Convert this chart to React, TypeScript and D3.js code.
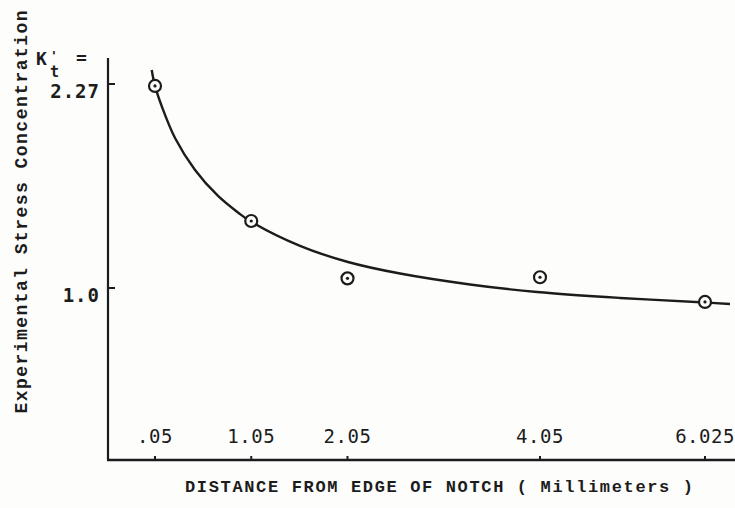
import React from "react";
import * as d3 from "d3";

// Data
const xTickValues = [0.05, 1.05, 2.05, 4.05, 6.025];
const xTickLabels = [".05", "1.05", "2.05", "4.05", "6.025"];
const yTickValues = [2.27, 1.0];
const yTickLabels = ["2.27", "1.0"];

const pointX = [0.05, 1.05, 2.05, 4.05, 6.025];
const pointY = [2.258, 1.417, 1.06, 1.067, 0.913];

const curveX = [0.016, 0.05, 0.123, 0.258, 0.466, 0.705, 0.912, 1.037, 1.557, 2.055, 2.596, 3.323, 4.019, 5.008, 6.025, 6.324];
const curveY = [2.357, 2.258, 2.127, 1.934, 1.735, 1.573, 1.47, 1.417, 1.262, 1.162, 1.09, 1.022, 0.975, 0.938, 0.91, 0.9];

const yTitle = "Experimental Stress Concentration";
const xTitle = "DISTANCE FROM EDGE OF NOTCH ( Millimeters )";

const W = 735;
const H = 508;

export default function App() {
  const x = d3.scaleLinear().domain([0.05, 4.05, 6.025]).range([155, 540, 705]);
  const y = d3.scaleLinear().domain([1.0, 2.27]).range([288, 84]);

  const axisX = 108;
  const axisTop = 58;
  const axisBottom = 460;

  const line = d3
    .line<number>()
    .x((_, i) => x(curveX[i]))
    .y((d) => y(d))
    .curve(d3.curveCatmullRom.alpha(0.5));

  const ink = "#1c1c1c";
  const bg = "#fdfdfc";
  const mono = "'Liberation Mono', 'DejaVu Sans Mono', monospace";
  const sansMono = "'DejaVu Sans Mono', 'Liberation Mono', monospace";

  return (
    <svg
      width={W}
      height={H}
      viewBox={`0 0 ${W} ${H}`}
      style={{ position: "fixed", left: 0, top: 0, background: bg }}
    >
      <rect x={0} y={0} width={W} height={H} fill={bg} />
      {/* axes */}
      <line x1={axisX} y1={axisTop} x2={axisX} y2={axisBottom} stroke={ink} strokeWidth={2.2} />
      <line x1={axisX - 1} y1={axisBottom} x2={W} y2={axisBottom} stroke={ink} strokeWidth={2.4} />

      {/* y ticks */}
      {yTickValues.map((v, i) => (
        <g key={"yt" + i}>
          <line x1={axisX} x2={axisX + 7} y1={y(v)} y2={y(v)} stroke={ink} strokeWidth={2} />
          <text
            x={100}
            y={y(v) + 14}
            textAnchor="end"
            fontFamily={sansMono}
            fontWeight="bold"
            fontSize={19}
            letterSpacing={1}
            fill={ink}
          >
            {yTickLabels[i]}
          </text>
        </g>
      ))}

      {/* K't = */}
      <text x={36} y={65} fontFamily={sansMono} fontWeight="bold" fontSize={18} fill={ink}>K</text>
      <text x={50} y={60} fontFamily={sansMono} fontWeight="bold" fontSize={13} fill={ink}>'</text>
      <text x={50} y={77} fontFamily={sansMono} fontWeight="bold" fontSize={15} fill={ink}>t</text>
      <text x={76} y={64} fontFamily={sansMono} fontWeight="bold" fontSize={18} fill={ink}>=</text>

      {/* x ticks */}
      {xTickValues.map((v, i) => (
        <g key={"xt" + i}>
          <line x1={x(v)} x2={x(v)} y1={axisBottom} y2={axisBottom - 4} stroke={ink} strokeWidth={2} />
          <text
            x={x(v)}
            y={443}
            textAnchor="middle"
            fontFamily={sansMono}
            fontSize={19}
            letterSpacing={0.5}
            fill={ink}
          >
            {xTickLabels[i]}
          </text>
        </g>
      ))}

      {/* curve */}
      <path d={line(curveY) || ""} fill="none" stroke={ink} strokeWidth={2.4} />

      {/* points */}
      {pointX.map((v, i) => (
        <g key={"p" + i}>
          <circle cx={x(v)} cy={y(pointY[i])} r={6} fill={bg} stroke={ink} strokeWidth={2.2} />
          <circle cx={x(v)} cy={y(pointY[i])} r={1.6} fill={ink} />
        </g>
      ))}

      {/* titles */}
      <text
        x={185}
        y={492}
        fontFamily={mono}
        fontWeight="bold"
        fontSize={17}
        textLength={508}
        lengthAdjust="spacing"
        fill={ink}
      >
        {xTitle}
      </text>
      <text
        transform={`translate(27, 212) rotate(-90)`}
        textAnchor="middle"
        fontFamily={mono}
        fontWeight="bold"
        fontSize={18}
        textLength={403}
        lengthAdjust="spacing"
        fill={ink}
      >
        {yTitle}
      </text>
    </svg>
  );
}
